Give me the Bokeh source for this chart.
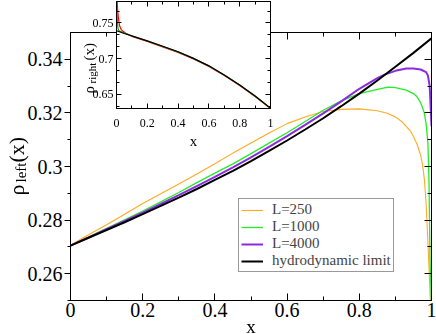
from math import pi
from bokeh.plotting import figure
from bokeh.models import (Range1d, LinearAxis, SingleIntervalTicker, CustomJSTickFormatter,
                          Legend, LegendItem, Label)
from bokeh.embed import file_html
from bokeh.resources import INLINE

FONT = "Liberation Serif"

# ---------------- main panel data: rho_left(x) ----------------
x_hydro = [0, 0.05, 0.1, 0.15, 0.2, 0.25, 0.3, 0.35, 0.4, 0.45, 0.5, 0.55, 0.6, 0.65,
           0.7, 0.75, 0.8, 0.85, 0.9, 0.95, 1.0]
rho_hydro = [0.2705, 0.2734, 0.2763, 0.2792, 0.2822, 0.2853, 0.2884, 0.2916, 0.2950, 0.2984,
             0.3020, 0.3058, 0.3097, 0.3138, 0.3180, 0.3225, 0.3272, 0.3321, 0.3372, 0.3424, 0.3478]

x_L250 = [0, 0.02, 0.05, 0.1, 0.15, 0.2, 0.25, 0.3, 0.35, 0.4, 0.45, 0.5, 0.55, 0.6, 0.65,
          0.7, 0.75, 0.8, 0.85, 0.88, 0.9, 0.92, 0.94, 0.95, 0.96, 0.97, 0.975, 0.98, 0.985,
          0.99, 0.995, 1.0]
rho_L250 = [0.2705, 0.2722, 0.2745, 0.2783, 0.2822, 0.2862, 0.2898, 0.2935, 0.2972, 0.3010,
            0.3050, 0.3088, 0.3125, 0.3160, 0.3185, 0.3205, 0.3213, 0.3215, 0.3208, 0.3198,
            0.3185, 0.3165, 0.3135, 0.3112, 0.3083, 0.3042, 0.3008, 0.2955, 0.2865, 0.2720,
            0.2560, 0.2400]

x_L1000 = [0, 0.05, 0.1, 0.15, 0.2, 0.25, 0.3, 0.35, 0.4, 0.45, 0.5, 0.55, 0.6, 0.65, 0.7,
           0.75, 0.8, 0.85, 0.88, 0.9, 0.93, 0.95, 0.96, 0.97, 0.98, 0.985, 0.99, 0.993,
           0.996, 1.0]
rho_L1000 = [0.2705, 0.2737, 0.2769, 0.2801, 0.2834, 0.2868, 0.2903, 0.2940, 0.2975, 0.3010,
             0.3048, 0.3087, 0.3126, 0.3168, 0.3210, 0.3245, 0.3272, 0.3288, 0.3296, 0.3294,
             0.3285, 0.3272, 0.3260, 0.3238, 0.3200, 0.3160, 0.3090, 0.2950, 0.2650, 0.2480]

x_L4000 = [0, 0.05, 0.1, 0.15, 0.2, 0.25, 0.3, 0.35, 0.4, 0.45, 0.5, 0.55, 0.6, 0.65, 0.7,
           0.75, 0.8, 0.85, 0.87, 0.9, 0.93, 0.95, 0.97, 0.985, 0.99, 0.995, 1.0]
rho_L4000 = [0.2705, 0.2735, 0.2766, 0.2797, 0.2828, 0.2860, 0.2893, 0.2927, 0.2961, 0.2997,
             0.3034, 0.3073, 0.3113, 0.3155, 0.3198, 0.3243, 0.3290, 0.3330, 0.3343, 0.3357,
             0.3366, 0.3366, 0.3362, 0.3352, 0.3340, 0.3300, 0.3150]

legend_labels = ["L=250", "L=1000", "L=4000", "hydrodynamic limit"]

# ---------------- inset data: rho_right(x) ----------------
x_in_hydro = [0, 0.05, 0.1, 0.2, 0.3, 0.4, 0.5, 0.6, 0.7, 0.8, 0.9, 1.0]
rho_in_hydro = [0.7390, 0.7352, 0.7318, 0.7248, 0.7172, 0.7095, 0.7003, 0.6898, 0.6770,
                0.6630, 0.6475, 0.6305]

x_in_red = [0, 0.004, 0.008, 0.012, 0.016, 0.02, 0.03, 0.04, 0.06, 0.1, 0.2, 0.3, 0.4, 0.5,
            0.6, 0.7, 0.8, 0.9, 1.0]
rho_in_red = [0.800, 0.780, 0.767, 0.758, 0.751, 0.746, 0.741, 0.7385, 0.7355, 0.7312,
              0.7240, 0.7163, 0.7087, 0.6995, 0.6890, 0.6762, 0.6622, 0.6468, 0.6300]

x_in_green = [0, 0.003, 0.006, 0.01, 0.015, 0.02, 0.04, 0.06, 0.1, 0.2, 0.3, 0.4, 0.5, 0.6,
              0.7, 0.8, 0.9, 1.0]
rho_in_green = [0.800, 0.770, 0.750, 0.742, 0.7395, 0.7385, 0.7368, 0.7352, 0.7316, 0.7247,
                0.7171, 0.7094, 0.7002, 0.6897, 0.6769, 0.6629, 0.6474, 0.6304]

fmt = CustomJSTickFormatter(code="return tick.toFixed(2).replace(/0+$/, '').replace(/\\.$/, '');")
blank = CustomJSTickFormatter(code="return '';")


def add_axis(fig, place, ticker, labels, t_in, t_out, m_in, m_out, size, standoff):
    ax = LinearAxis(ticker=ticker, formatter=fmt if labels else blank,
                    major_tick_in=t_in, major_tick_out=t_out,
                    minor_tick_in=m_in, minor_tick_out=m_out,
                    axis_line_color="black", major_tick_line_color="black",
                    minor_tick_line_color="black",
                    major_label_text_font=FONT, major_label_text_color="black",
                    major_label_text_font_size=size if labels else "1px",
                    major_label_standoff=standoff if labels else 0)
    fig.add_layout(ax, place)
    return ax


# ---------------- main figure ----------------
main = figure(width=436, height=334, output_backend="svg", toolbar_location=None,
              x_range=Range1d(0, 1), y_range=Range1d(0.25, 0.35),
              x_axis_type=None, y_axis_type=None,
              min_border_left=70, min_border_right=5, min_border_top=32, min_border_bottom=34,
              background_fill_color="white", border_fill_color="white",
              outline_line_color="black")

xt = SingleIntervalTicker(interval=0.2, num_minor_ticks=2)
yt = SingleIntervalTicker(interval=0.02, num_minor_ticks=2)
add_axis(main, "below", xt, True, 7, 0, 4, 0, "20px", 2)
add_axis(main, "above", xt, False, 7, 0, 4, 0, "20px", 0)
add_axis(main, "left", yt, True, 0, 6, 0, 3, "20px", 2)
add_axis(main, "right", yt, False, 7, 0, 4, 0, "20px", 0)

r250 = main.line(x_L250, rho_L250, line_color="#FFAA22", line_width=1.1)
r1000 = main.line(x_L1000, rho_L1000, line_color="#22EE22", line_width=1.3)
r4000 = main.line(x_L4000, rho_L4000, line_color="#8A2BE2", line_width=2.0)
rh = main.line(x_hydro, rho_hydro, line_color="black", line_width=2)

legend = Legend(items=[LegendItem(label=legend_labels[0], renderers=[r250]),
                       LegendItem(label=legend_labels[1], renderers=[r1000]),
                       LegendItem(label=legend_labels[2], renderers=[r4000]),
                       LegendItem(label=legend_labels[3], renderers=[rh])],
                location=(168, 28), border_line_color="#333333", border_line_width=1,
                background_fill_color="white", background_fill_alpha=1.0,
                label_text_font=FONT, label_text_font_size="15px",
                glyph_width=22, glyph_height=14, label_height=14, spacing=0,
                padding=2, margin=0, label_standoff=9)
main.add_layout(legend)

# ---------------- inset figure ----------------
inset = figure(width=215, height=145, output_backend="svg", toolbar_location=None,
               x_range=Range1d(0, 1), y_range=Range1d(0.63, 0.78),
               x_axis_type=None, y_axis_type=None,
               min_border_left=56, min_border_right=5, min_border_top=1, min_border_bottom=37,
               background_fill_color="white", border_fill_color=None,
               outline_line_color="black",
               styles={"position": "fixed", "left": "60px", "top": "0px", "z-index": "10"})

ixt = SingleIntervalTicker(interval=0.2, num_minor_ticks=2)
iyt = SingleIntervalTicker(interval=0.05, num_minor_ticks=3)
add_axis(inset, "below", ixt, True, 5, 0, 3, 0, "12px", 10)
add_axis(inset, "above", ixt, False, 5, 0, 3, 0, "12px", 0)
add_axis(inset, "left", iyt, True, 5, 0, 3, 0, "12px", 3)
add_axis(inset, "right", iyt, False, 5, 0, 3, 0, "12px", 0)

inset.line(x_in_red, rho_in_red, line_color="red", line_width=1.2)
inset.line(x_in_green, rho_in_green, line_color="#1a9a1a", line_width=1.2)
inset.line(x_in_hydro, rho_in_hydro, line_color="black", line_width=1.2)

# ---------------- transparent overlay for axis titles (pixel space, y up) ----------------
over = figure(width=436, height=334, output_backend="svg", toolbar_location=None,
              x_range=Range1d(0, 436), y_range=Range1d(0, 334),
              x_axis_type=None, y_axis_type=None,
              min_border=0, min_border_left=0, min_border_right=0,
              min_border_top=0, min_border_bottom=0,
              background_fill_color=None, border_fill_color=None, outline_line_color=None,
              styles={"position": "fixed", "left": "0px", "top": "0px", "z-index": "20"})

titles = [
    # text, x, y (pixels from the bottom), size, angle
    ("ρ", 16, 139, "22px", pi / 2),
    ("left", 20, 152, "15px", pi / 2),
    ("(x)", 16, 172, "22px", pi / 2),
    ("x", 250.5, 8, "19px", 0),
    ("ρ", 88, 241, "15px", pi / 2),
    ("right", 91, 251, "11px", pi / 2),
    ("(x)", 88, 274, "15px", pi / 2),
    ("x", 193, 194, "15px", 0),
]
for txt, xs, ys, fs, ang in titles:
    over.add_layout(Label(x=xs, y=ys, text=txt, angle=ang, text_font=FONT,
                          text_font_size=fs,
                          text_align="center" if ang == 0 else "left",
                          text_baseline="alphabetic", text_color="black"))

p = [main, inset, over]
open("out.html", "w").write(file_html(p, INLINE))
